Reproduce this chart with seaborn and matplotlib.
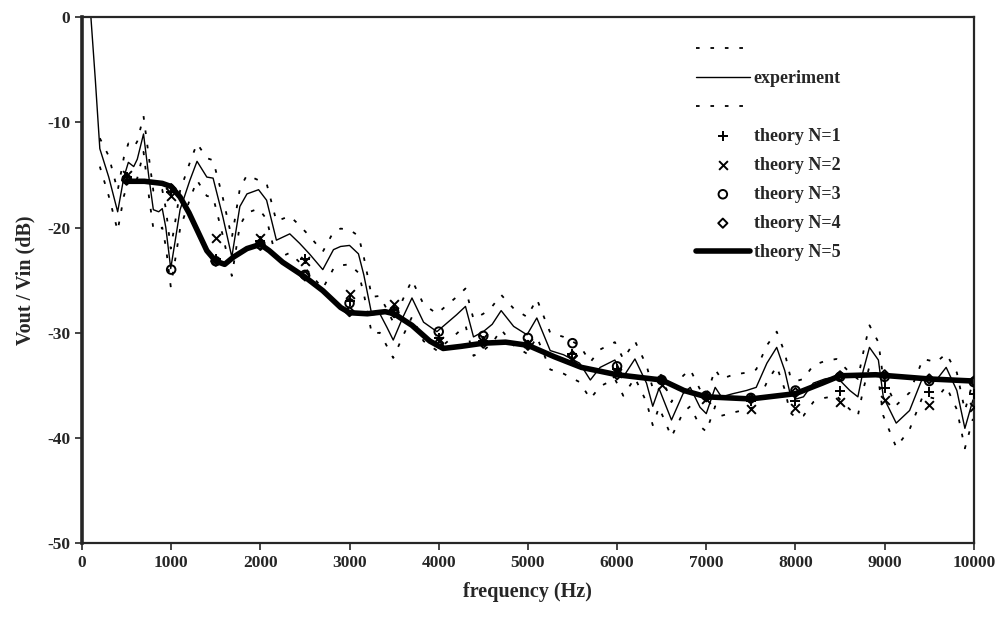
import numpy as np
import pandas as pd
import matplotlib
matplotlib.use('Agg')
import matplotlib.pyplot as plt
import seaborn as sns

# 实验曲线 (Hz, dB)
exp_freq = [100, 150, 200, 300, 400, 470, 520, 580, 620, 690, 750, 800, 860, 900, 940, 995,
            1050, 1100, 1210, 1290, 1400, 1470, 1580, 1680, 1770, 1850, 1980, 2070, 2180, 2330,
            2440, 2550, 2700, 2820, 2900, 3000, 3100, 3160, 3250, 3340, 3420, 3490, 3600, 3700,
            3830, 3980, 4090, 4200, 4300, 4390, 4500, 4600, 4700, 4840, 4990, 5100, 5250, 5400,
            5580, 5700, 5810, 5975, 6070, 6200, 6330, 6400, 6470, 6610, 6740, 6820, 6930, 7000,
            7100, 7170, 7300, 7450, 7560, 7680, 7790, 7880, 7940, 8010, 8090, 8200, 8330, 8460,
            8610, 8700, 8760, 8830, 8930, 8985, 9130, 9280, 9430, 9580, 9690, 9810, 9900, 9990]
exp_db = [0.0, -6.0, -12.5, -15.2, -18.5, -15.2, -13.8, -14.2, -13.5, -11.1, -15.2, -18.3, -18.5,
          -18.2, -20.0, -23.9, -21.0, -18.3, -15.5, -13.7, -15.2, -15.3, -19.0, -22.8, -18.0, -16.8,
          -16.4, -17.4, -21.2, -20.6, -21.5, -22.5, -24.0, -22.1, -21.8, -21.7, -22.5, -24.5, -28.3,
          -28.2, -29.5, -30.7, -28.5, -26.7, -29.0, -29.9, -29.1, -28.3, -27.5, -30.4, -29.9, -29.2,
          -27.9, -29.4, -30.2, -28.6, -31.7, -32.1, -32.9, -34.5, -33.3, -32.6, -34.2, -32.5, -34.8,
          -37.0, -35.3, -38.3, -35.8, -35.2, -37.1, -37.7, -35.2, -36.1, -35.8, -35.5, -35.2, -32.9,
          -31.4, -33.6, -35.8, -36.3, -36.1, -34.8, -34.4, -34.2, -35.5, -36.1, -33.6, -31.4, -32.6,
          -36.1, -38.6, -37.4, -34.2, -34.5, -33.3, -35.5, -39.1, -36.4]

# 误差上下限 (虚线)
band_freq = exp_freq[2:]
upper_db = [-11.5, -13.2, -16.5, -13.3, -12.0, -12.4, -11.8, -9.4, -13.3, -16.5, -16.8, -16.4,
            -18.2, -22.0, -19.2, -16.5, -13.8, -12.0, -13.4, -13.6, -17.2, -21.0, -16.3, -15.0,
            -15.5, -15.8, -19.4, -18.9, -19.8, -20.8, -22.3, -20.4, -20.1, -20.2, -20.8, -22.8,
            -26.6, -26.5, -27.8, -29.0, -26.8, -25.0, -27.3, -28.2, -27.4, -26.6, -25.8, -28.7,
            -28.2, -27.5, -26.4, -27.7, -28.5, -26.8, -30.0, -30.4, -31.2, -32.8, -31.6, -30.9,
            -32.5, -30.8, -33.1, -35.3, -33.6, -36.6, -34.1, -33.5, -35.4, -36.0, -33.5, -34.4,
            -34.0, -33.8, -33.5, -31.2, -29.9, -31.9, -34.1, -34.6, -34.4, -33.1, -32.7, -32.5,
            -33.8, -34.4, -31.9, -29.3, -30.9, -34.4, -36.9, -35.7, -32.5, -32.8, -32.0, -33.8,
            -37.4, -34.7]
lower_db = [-14.2, -17.0, -20.3, -17.0, -15.6, -16.0, -15.3, -12.8, -17.0, -20.1, -20.3, -20.0,
            -21.8, -25.6, -22.8, -20.1, -17.3, -15.5, -17.0, -17.1, -20.8, -24.6, -19.8, -18.6,
            -18.2, -19.2, -23.0, -22.4, -23.3, -24.3, -25.8, -23.9, -23.6, -23.5, -24.3, -26.3,
            -30.1, -30.0, -31.3, -32.4, -30.3, -28.5, -30.8, -31.7, -30.9, -30.1, -29.3, -32.2,
            -31.7, -31.0, -29.7, -31.2, -32.0, -30.4, -33.5, -33.9, -34.7, -36.3, -35.1, -34.4,
            -36.0, -34.3, -36.6, -38.8, -37.1, -39.9, -37.6, -37.0, -38.9, -39.4, -37.0, -37.9,
            -37.6, -37.3, -37.0, -34.7, -33.2, -35.4, -37.6, -38.1, -37.9, -36.6, -36.2, -36.0,
            -37.3, -37.9, -35.4, -33.2, -34.4, -37.9, -40.9, -39.2, -36.0, -36.3, -35.1, -37.3,
            -41.0, -38.2]

# 理论 N=5 (粗线)
n5_freq = [500, 700, 900, 1000, 1100, 1200, 1300, 1400, 1500, 1600, 1700, 1850, 2000, 2100, 2250,
           2500, 2700, 2900, 3000, 3200, 3400, 3500, 3700, 3900, 4050, 4250, 4500, 4750, 5000,
           5300, 5600, 6000, 6500, 6750, 7000, 7500, 8000, 8300, 8500, 8900, 9500, 10000]
n5_db = [-15.6, -15.6, -15.8, -16.1, -17.1, -18.6, -20.4, -22.2, -23.2, -23.5, -22.8, -22.0, -21.6,
         -22.2, -23.3, -24.7, -26.0, -27.6, -28.1, -28.2, -28.0, -28.2, -29.3, -30.8, -31.5, -31.3,
         -31.0, -30.9, -31.2, -32.3, -33.3, -34.0, -34.5, -35.5, -36.1, -36.3, -35.8, -34.8, -34.1,
         -34.0, -34.4, -34.6]

# 理论 N=1..4 (符号)
pt_freq = [500, 1000, 1500, 2000, 2500, 3000, 3500, 4000, 4500, 5000,
           5500, 6000, 6500, 7000, 7500, 8000, 8500, 9000, 9500, 10000]
n1_db = [-15.2, -16.6, -23.0, -21.3, -23.0, -27.0, -27.8, -30.5, -30.8, -31.2,
         -32.0, -33.5, -34.5, -36.0, -36.5, -36.5, -35.5, -35.3, -35.6, -35.8]
n2_db = [-15.0, -17.0, -21.0, -21.0, -23.2, -26.3, -27.3, -30.8, -30.5, -31.0,
         -32.5, -33.8, -35.0, -36.3, -37.3, -37.2, -36.6, -36.4, -36.9, -37.1]
n3_db = [-15.4, -24.0, -23.2, -21.6, -24.5, -27.2, -28.0, -29.9, -30.3, -30.5,
         -31.0, -33.2, -34.5, -36.0, -36.2, -35.5, -34.2, -34.2, -34.6, -34.7]
n4_db = [-15.5, -16.3, -23.2, -21.7, -24.6, -28.0, -28.1, -31.0, -31.0, -31.2,
         -32.2, -34.0, -34.5, -36.1, -36.3, -35.7, -34.1, -34.0, -34.4, -34.6]

sns.set_style('ticks')
plt.rcParams['font.family'] = ['Liberation Serif', 'DejaVu Serif']
plt.rcParams['font.weight'] = 'bold'
plt.rcParams['axes.labelweight'] = 'bold'
plt.rcParams['axes.unicode_minus'] = False

fig = plt.figure(figsize=(10.06, 6.17), dpi=100)
ax = fig.add_axes([0.0815, 0.12, 0.8865, 0.852])

dash = (0, (2.0, 6.0))
sns.lineplot(x=band_freq, y=upper_db, ax=ax, color='black', lw=1.3, linestyle=dash,
             estimator=None, sort=False)
sns.lineplot(x=exp_freq, y=exp_db, ax=ax, color='black', lw=1.0,
             estimator=None, sort=False)
sns.lineplot(x=band_freq, y=lower_db, ax=ax, color='black', lw=1.3, linestyle=dash,
             estimator=None, sort=False)
sns.lineplot(x=n5_freq, y=n5_db, ax=ax, color='black', lw=4.0,
             estimator=None, sort=False)

sns.scatterplot(x=pt_freq, y=n1_db, ax=ax, marker='+', color='black', s=45, linewidth=1.4, zorder=3)
sns.scatterplot(x=pt_freq, y=n2_db, ax=ax, marker='x', color='black', s=40, linewidth=1.4, zorder=3)
sns.scatterplot(x=pt_freq, y=n3_db, ax=ax, marker='o', facecolor='none', edgecolor='black',
                s=38, linewidth=1.4, zorder=3)
sns.scatterplot(x=pt_freq, y=n4_db, ax=ax, marker='D', facecolor='none', edgecolor='black',
                s=22, linewidth=1.4, zorder=3)

ax.set_xlim(0, 10000)
ax.set_ylim(-50, 0)
ax.set_xticks(np.arange(0, 10001, 1000))
ax.set_yticks(np.arange(-50, 1, 10))
ax.set_xlabel('frequency (Hz)', fontsize=14.5, fontweight='bold', labelpad=8)
ax.set_ylabel('Vout / Vin (dB)', fontsize=14.5, fontweight='bold', labelpad=8)
ax.tick_params(axis='both', labelsize=12.5, direction='out', length=5, width=1.2)
for lab in ax.get_xticklabels() + ax.get_yticklabels():
    lab.set_fontweight('bold')
for side in ['top', 'right', 'bottom']:
    ax.spines[side].set_linewidth(1.6)
ax.spines['left'].set_linewidth(2.6)

# 图例
lines = ax.get_lines()
cols = ax.collections
handles = [lines[0], lines[1], lines[2], cols[0], cols[1], cols[2], cols[3], lines[3]]
labels = ['', 'experiment', '', 'theory N=1', 'theory N=2', 'theory N=3', 'theory N=4', 'theory N=5']
leg = ax.legend(handles, labels, loc='upper left', bbox_to_anchor=(0.67, 0.985), frameon=False,
                fontsize=13, handlelength=3.0, handletextpad=0.2, labelspacing=0.66)
for t in leg.get_texts():
    t.set_fontweight('bold')

fig.savefig('out.png', dpi=100)
